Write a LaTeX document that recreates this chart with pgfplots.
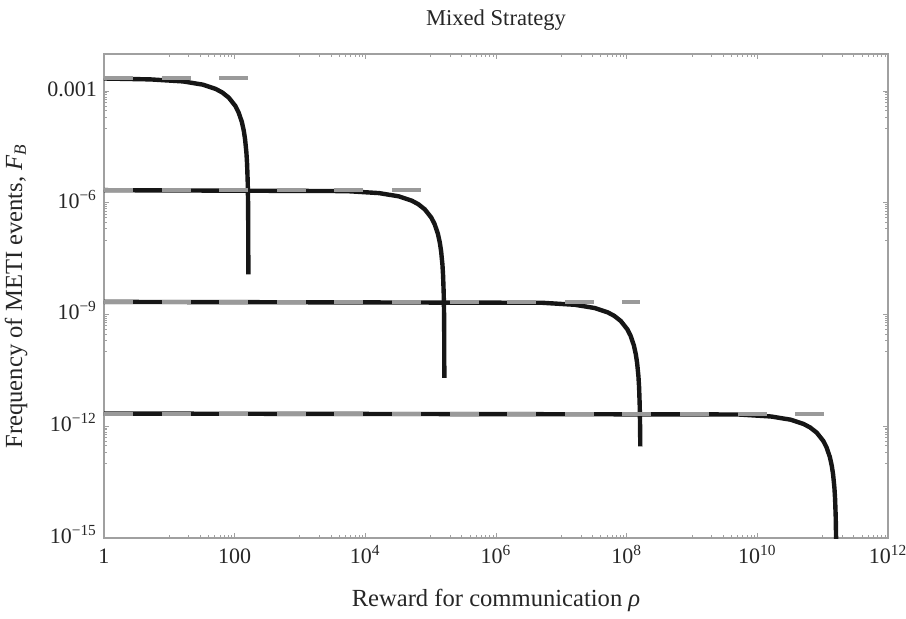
\documentclass[border=0pt]{standalone}
\usepackage{fontspec}
\setmainfont{Liberation Serif}
\usepackage{pgfplots}
\pgfplotsset{compat=1.18}
\definecolor{framegray}{HTML}{A0A0A0}
\definecolor{dashgray}{HTML}{9A9A9A}
\definecolor{curveblack}{HTML}{161616}
\begin{document}
\begin{tikzpicture}
\path[use as bounding box] (-52pt,-40pt) rectangle (401pt,269pt);
\begin{axis}[
  at={(0,0)}, anchor=south west,
  scale only axis, width=392pt, height=242pt,
  xmode=log, ymode=log,
  xmin=1, xmax=1e12, ymin=1e-15, ymax=1e-2,
  axis line style={framegray, line width=0.6pt},
  tick style={framegray, line width=0.5pt},
  tick align=inside,
  major tick length=2.6pt, minor tick length=1.4pt,
  xtick={1,100,1e4,1e6,1e8,1e10,1e12},
  xticklabels={1,100,10\textsuperscript{4},10\textsuperscript{6},10\textsuperscript{8},10\textsuperscript{10},10\textsuperscript{12}},
  minor xtick={10,20,30,40,50,60,70,80,90,
    1000,2000,3000,4000,5000,6000,7000,8000,9000,
    1e5,2e5,3e5,4e5,5e5,6e5,7e5,8e5,9e5,
    1e7,2e7,3e7,4e7,5e7,6e7,7e7,8e7,9e7,
    1e9,2e9,3e9,4e9,5e9,6e9,7e9,8e9,9e9,
    1e11,2e11,3e11,4e11,5e11,6e11,7e11,8e11,9e11},
  ytick={1e-15,1e-12,1e-9,1e-6,1e-3},
  yticklabels={10\textsuperscript{−15},10\textsuperscript{−12},10\textsuperscript{−9},10\textsuperscript{−6},0.001},
  minor ytick={1e-4,2e-4,3e-4,4e-4,5e-4,6e-4,7e-4,8e-4,9e-4,
    1e-7,2e-7,3e-7,4e-7,5e-7,6e-7,7e-7,8e-7,9e-7,
    1e-10,2e-10,3e-10,4e-10,5e-10,6e-10,7e-10,8e-10,9e-10,
    1e-13,2e-13,3e-13,4e-13,5e-13,6e-13,7e-13,8e-13,9e-13},
  typeset ticklabels with strut,
  every tick label/.append style={font=\fontsize{11}{13}\selectfont, text=black!85},
  every axis title shift=0pt,
  title={Mixed Strategy},
  title style={at={(axis description cs:0.5,1.07)}, anchor=center, font=\fontsize{11.3}{13}\selectfont, text=black!85},
  xlabel={Reward for communication \textit{ρ}},
  xlabel style={at={(axis description cs:0.5,-0.128)}, anchor=center, font=\fontsize{12.3}{14}\selectfont, text=black!85},
  ylabel={Frequency of METI events, \textit{F}\textsubscript{\textit{B}}},
  ylabel style={at={(axis description cs:-0.112,0.5)}, anchor=center, font=\fontsize{12.3}{14}\selectfont, text=black!85},
]
% black curves
\addplot[curveblack, line width=2.2pt, line join=round] coordinates {
 (1,2.2e-3) (5.129,2.08e-3) (16.22,1.837e-3) (32.36,1.506e-3) (51.29,1.151e-3)
 (64.57,9.27e-4) (81.28,6.73e-4) (102.3,4.04e-4) (114.8,2.71e-4) (128.8,1.50e-4)
 (138.0,8.63e-5) (144.5,5.06e-5) (151.4,2.20e-5) (154.9,1.13e-5) (158.5,3.56e-6)
 (160.3,1.10e-6) (161.4,2.35e-7) (161.8,2.2e-8) (162.0,1.2e-8)};
\addplot[curveblack, line width=2.2pt, line join=round] coordinates {
 (1,2.2e-6) (5129,2.08e-6) (16220,1.837e-6) (32360,1.506e-6) (51290,1.151e-6)
 (64570,9.27e-7) (81280,6.73e-7) (102300,4.04e-7) (114800,2.71e-7) (128800,1.50e-7)
 (138000,8.63e-8) (144500,5.06e-8) (151400,2.20e-8) (154900,1.13e-8) (158500,3.56e-9)
 (160300,1.10e-9) (161400,2.35e-10) (161800,2.2e-11) (162000,2.0e-11)};
\addplot[curveblack, line width=2.2pt, line join=round] coordinates {
 (1,2.2e-9) (5.129e6,2.08e-9) (1.622e7,1.837e-9) (3.236e7,1.506e-9) (5.129e7,1.151e-9)
 (6.457e7,9.27e-10) (8.128e7,6.73e-10) (1.023e8,4.04e-10) (1.148e8,2.71e-10) (1.288e8,1.50e-10)
 (1.380e8,8.63e-11) (1.445e8,5.06e-11) (1.514e8,2.20e-11) (1.549e8,1.13e-11) (1.585e8,3.56e-12)
 (1.603e8,1.10e-12) (1.617e8,2.9e-13)};
\addplot[curveblack, line width=2.2pt, line join=round] coordinates {
 (1,2.2e-12) (5.129e9,2.08e-12) (1.622e10,1.837e-12) (3.236e10,1.506e-12) (5.129e10,1.151e-12)
 (6.457e10,9.27e-13) (8.128e10,6.73e-13) (1.023e11,4.04e-13) (1.148e11,2.71e-13) (1.288e11,1.50e-13)
 (1.380e11,8.63e-14) (1.445e11,5.06e-14) (1.514e11,2.20e-14) (1.549e11,1.13e-14) (1.585e11,3.56e-15)
 (1.603e11,1.10e-15) (1.614e11,2.35e-16) (1.618e11,2.2e-17) (1.620e11,1e-17)};
% gray dashed lines
\addplot[dashgray, line width=2.0pt, dash pattern=on 14.5pt off 14.3pt] coordinates {(1,2.2e-3) (162,2.2e-3)};
\addplot[dashgray, line width=2.0pt, dash pattern=on 14.5pt off 14.3pt] coordinates {(1,2.2e-6) (162000,2.2e-6)};
\addplot[dashgray, line width=2.0pt, dash pattern=on 14.5pt off 14.3pt] coordinates {(1,2.2e-9) (1.62e8,2.2e-9)};
\addplot[dashgray, line width=2.0pt, dash pattern=on 14.5pt off 14.3pt] coordinates {(1,2.2e-12) (1.62e11,2.2e-12)};
\end{axis}
\end{tikzpicture}
\end{document}
